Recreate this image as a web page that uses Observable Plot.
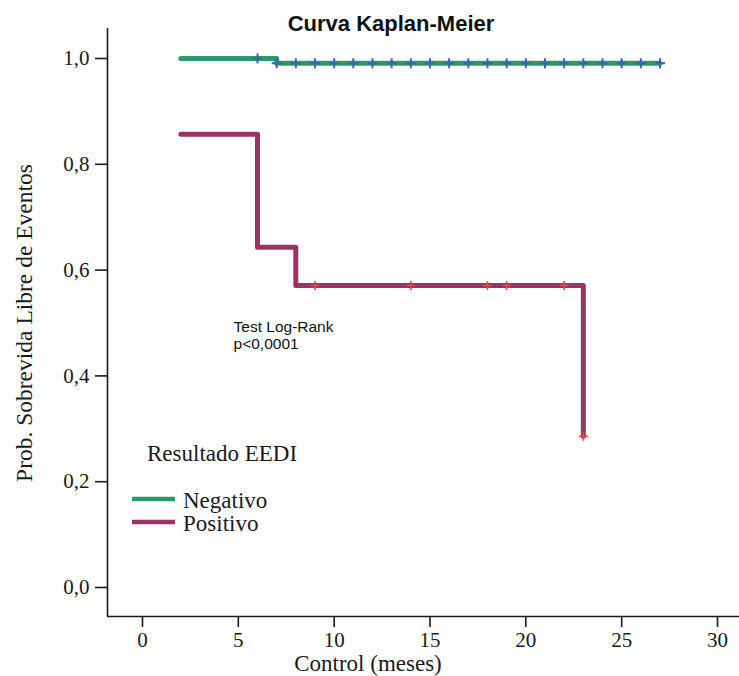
<!DOCTYPE html>
<html>
<head>
<meta charset="utf-8">
<script src="https://cdn.jsdelivr.net/npm/d3@7"></script>
<script src="https://cdn.jsdelivr.net/npm/@observablehq/plot@0.6"></script>
<style>
  html, body { margin: 0; padding: 0; background: #fff; }
  #chart svg { display: block; }
</style>
</head>
<body>
<div id="chart"></div>
<script>
// ---- data ----
const titleText = "Curva Kaplan-Meier";
const yLabel = "Prob. Sobrevida Libre de Eventos";
const xLabel = "Control (meses)";
const legendTitle = "Resultado EEDI";
const groups = ["Negativo", "Positivo"];
const testText = "Test Log-Rank\np<0,0001";

// step curves (time, survival)
const negTimes = [2, 7, 27];
const negSurv = [1.0, 0.991, 0.991];
const posTimes = [2, 6, 8, 23];
const posSurv = [0.857, 0.643, 0.571, 0.286];

// censored observations
const negCensorTimes = [6, 7, 8, 9, 10, 11, 12, 13, 14, 15, 16, 17, 18, 19, 20, 21, 22, 23, 24, 25, 26, 27];
const negCensorSurv = [1.0, 0.991, 0.991, 0.991, 0.991, 0.991, 0.991, 0.991, 0.991, 0.991, 0.991, 0.991, 0.991, 0.991, 0.991, 0.991, 0.991, 0.991, 0.991, 0.991, 0.991, 0.991];
const posCensorTimes = [9, 14, 18, 19, 22, 23];
const posCensorSurv = [0.571, 0.571, 0.571, 0.571, 0.571, 0.286];

const xTicks = [0, 5, 10, 15, 20, 25, 30];
const yTicks = [0, 0.2, 0.4, 0.6, 0.8, 1.0];

// ---- build tables ----
const negLine = negTimes.map((t, i) => ({t, s: negSurv[i]}));
const posLine = posTimes.map((t, i) => ({t, s: posSurv[i]}));
const negCens = negCensorTimes.map((t, i) => ({t, s: negCensorSurv[i]}));
const posCens = posCensorTimes.map((t, i) => ({t, s: posCensorSurv[i]}));

const green = "#2e9968";
const purple = "#9b3465";
const blue = "#3f5fb8";
const red = "#ee4646";
const serif = "'Liberation Serif', 'Times New Roman', serif";
const sans = "'Liberation Sans', Arial, sans-serif";

const plusSymbol = {
  draw(context, size) {
    const r = Math.sqrt(size / Math.PI);
    context.moveTo(-r, 0); context.lineTo(r, 0);
    context.moveTo(0, -r); context.lineTo(0, r);
  }
};

const xDomain = [-1.826, 31.148];
const yDomain = [-0.0548, 1.0567];
const fmt = d => d.toFixed(1).replace(".", ",");

const plot = Plot.plot({
  width: 739,
  height: 676,
  marginLeft: 107,
  marginRight: 0,
  marginTop: 28,
  marginBottom: 60,
  style: {fontFamily: serif, fontSize: "21px", color: "#1a1a1a", background: "#fff"},
  x: {domain: xDomain},
  y: {domain: yDomain},
  marks: [
    Plot.ruleX([xDomain[0]], {stroke: "#1a1a1a", strokeWidth: 1.6}),
    Plot.ruleY([yDomain[0]], {stroke: "#1a1a1a", strokeWidth: 1.6}),
    Plot.axisY(yTicks, {tickSize: 12, tickPadding: 6, tickFormat: fmt, strokeWidth: 1.6, fontSize: 21, fontFamily: serif, label: null}),
    Plot.axisX(xTicks, {tickSize: 11, tickPadding: 5, strokeWidth: 1.6, fontSize: 21, fontFamily: serif, label: null}),
    Plot.line(negLine, {x: "t", y: "s", curve: "step-after", stroke: green, strokeWidth: 5}),
    Plot.line(posLine, {x: "t", y: "s", curve: "step-after", stroke: purple, strokeWidth: 5}),
    Plot.dot(negCens, {x: "t", y: "s", symbol: plusSymbol, r: 5, stroke: blue, fill: "none", strokeWidth: 2}),
    Plot.dot(posCens, {x: "t", y: "s", symbol: plusSymbol, r: 4.5, stroke: red, fill: "none", strokeWidth: 1.6}),
    Plot.text([testText], {x: 4.75, y: 0.505, text: d => d, textAnchor: "start", lineAnchor: "top", fontFamily: sans, fontSize: 15.5, lineHeight: 1.1, fill: "#111"})
  ]
});

document.getElementById("chart").appendChild(plot);

// ---- annotations (title, axis labels, legend) ----
const svg = d3.select(plot);
svg.append("text")
  .attr("x", 391).attr("y", 31)
  .attr("text-anchor", "middle")
  .attr("font-family", sans).attr("font-weight", "bold").attr("font-size", 22)
  .attr("fill", "#111")
  .text(titleText);

svg.append("text")
  .attr("transform", "translate(32,323) rotate(-90)")
  .attr("text-anchor", "middle")
  .attr("font-family", serif).attr("font-size", 23.5)
  .attr("fill", "#1a1a1a")
  .text(yLabel);

svg.append("text")
  .attr("x", 368).attr("y", 671)
  .attr("text-anchor", "middle")
  .attr("font-family", serif).attr("font-size", 23)
  .attr("fill", "#1a1a1a")
  .text(xLabel);

svg.append("text")
  .attr("x", 147).attr("y", 461)
  .attr("text-anchor", "start")
  .attr("font-family", serif).attr("font-size", 23)
  .attr("fill", "#1a1a1a")
  .text(legendTitle);

const legendColors = [green, purple];
const legendY = [499, 522];
groups.forEach((g, i) => {
  svg.append("line")
    .attr("x1", 132).attr("x2", 175)
    .attr("y1", legendY[i]).attr("y2", legendY[i])
    .attr("stroke", legendColors[i]).attr("stroke-width", 4.5);
  svg.append("text")
    .attr("x", 183).attr("y", legendY[i] + 9)
    .attr("text-anchor", "start")
    .attr("font-family", serif).attr("font-size", 23)
    .attr("fill", "#1a1a1a")
    .text(g);
});
</script>
</body>
</html>
